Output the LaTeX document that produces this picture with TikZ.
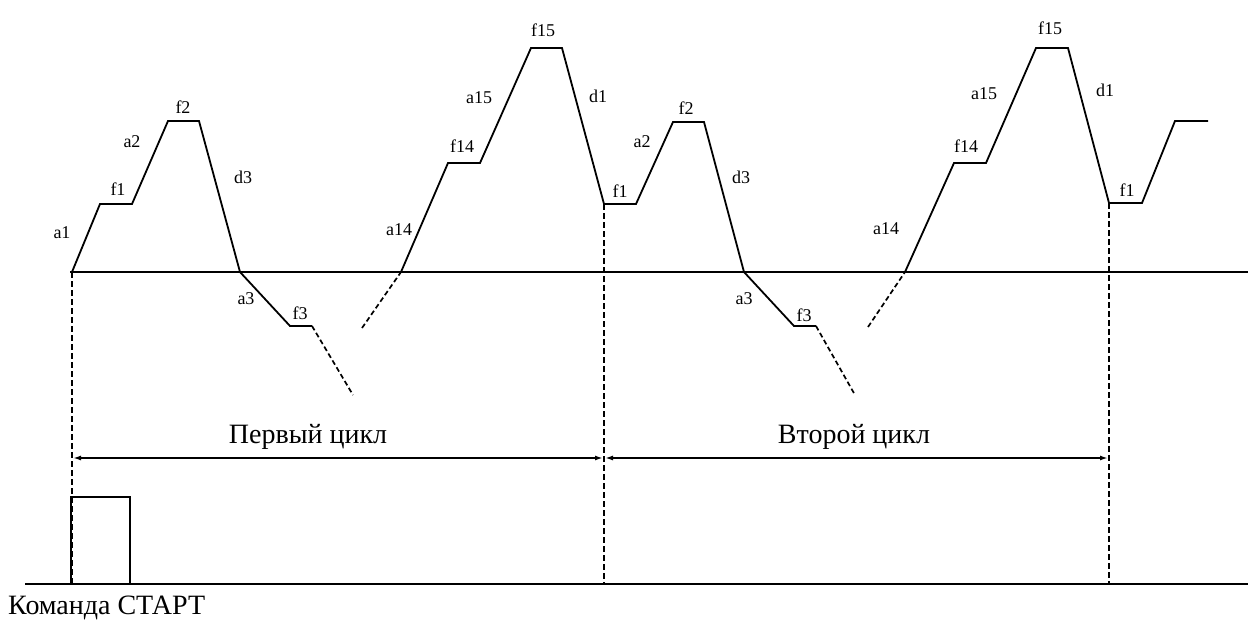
\documentclass[tikz,border=0pt]{standalone}
\usepackage{fontspec}
\setmainfont{Liberation Serif}
\usetikzlibrary{arrows.meta}
\begin{document}
\begin{tikzpicture}[x=1pt,y=-1pt,
  wave/.style={line width=1.8pt,line join=miter},
  dwave/.style={line width=1.7pt,dash pattern=on 5pt off 3pt},
  vdash/.style={line width=1.4pt,dash pattern=on 6pt off 3pt},
  axis/.style={line width=1.8pt},
  lbl/.style={font=\fontsize{18}{20}\selectfont,inner sep=0pt},
  big/.style={font=\fontsize{28}{30}\selectfont,inner sep=0pt},
  dim/.style={line width=1.7pt,{Latex[length=8pt,width=5pt]}-{Latex[length=8pt,width=5pt]}}]
\path[use as bounding box] (0,0) rectangle (1248,624);
% zero line
\coordinate (z0) at (70,272);
\coordinate (z1) at (1248,272);
\draw[axis] (z0) -- (z1);
% waveform
\draw[wave] (72,272) -- (100,204) -- (132,204) -- (168,121) -- (199,121) -- (240,272) -- (290,326) -- (312,326);
\draw[dwave] (312,326) -- (353,395);
\draw[dwave] (362,328) -- (401,272);
\draw[wave] (401,272) -- (448,163) -- (480,163) -- (531,48) -- (562,48) -- (604,204) -- (636,204) -- (673,122) -- (704,122) -- (744,272) -- (794,326) -- (816,326);
\draw[dwave] (816,326) -- (855,395);
\draw[dwave] (868,327) -- (905,272);
\draw[wave] (905,272) -- (954,163) -- (986,163) -- (1036,48) -- (1068,48) -- (1109,203) -- (1142,203) -- (1175,121) -- (1208,121);
% vertical dashed lines
\coordinate (v1t) at (72,272);
\coordinate (v1b) at (72,584);
\coordinate (v2t) at (604,204);
\coordinate (v2b) at (604,584);
\coordinate (v3t) at (1109,203);
\coordinate (v3b) at (1109,584);
\draw[vdash] (v1t) -- (v1b);
\draw[vdash] (v2t) -- (v2b);
\draw[vdash] (v3t) -- (v3b);
% dimension lines
\coordinate (d1a) at (73,458);
\coordinate (d1b) at (603,458);
\coordinate (d2a) at (605,458);
\coordinate (d2b) at (1108,458);
\draw[dim] (d1a) -- (d1b);
\draw[dim] (d2a) -- (d2b);
\node[big] (c1) at (308,437) {Первый цикл};
\node[big] (c2) at (854,437) {Второй цикл};
% bottom line and start pulse
\coordinate (b0) at (25,584);
\coordinate (b1) at (1248,584);
\draw[axis] (b0) -- (b1);
\draw[line width=1.5pt] (71,584) -- (71,497) -- (130,497) -- (130,584);
\node[big,anchor=west] (start) at (8,608) {Команда СТАРТ};
% labels cycle 1
\node[lbl] (la1) at (62,233) {a1};
\node[lbl] (lf1) at (118,189) {f1};
\node[lbl] (la2) at (132,142) {a2};
\node[lbl] (lf2) at (183,107) {f2};
\node[lbl] (ld3) at (243,177) {d3};
\node[lbl] (la3) at (246,299) {a3};
\node[lbl] (lf3) at (300,313) {f3};
\node[lbl] (la14) at (399,230) {a14};
\node[lbl] (lf14) at (462,146) {f14};
\node[lbl] (la15) at (479,98) {a15};
\node[lbl] (lf15) at (543,30) {f15};
\node[lbl] (ld1) at (598,96) {d1};
\node[lbl] (lf1b) at (620,191) {f1};
% labels cycle 2
\node[lbl] (la2b) at (642,142) {a2};
\node[lbl] (lf2b) at (686,108) {f2};
\node[lbl] (ld3b) at (741,177) {d3};
\node[lbl] (la3b) at (744,299) {a3};
\node[lbl] (lf3b) at (804,315) {f3};
\node[lbl] (la14b) at (886,229) {a14};
\node[lbl] (lf14b) at (966,146) {f14};
\node[lbl] (la15b) at (984,94) {a15};
\node[lbl] (lf15b) at (1050,28) {f15};
\node[lbl] (ld1b) at (1105,90) {d1};
\node[lbl] (lf1c) at (1127,190) {f1};
\end{tikzpicture}
\end{document}
